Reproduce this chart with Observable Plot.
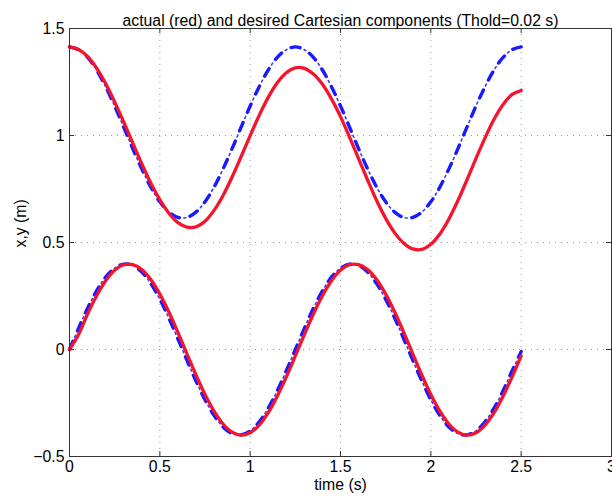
<!DOCTYPE html>
<html><head><meta charset="utf-8">
<script src="https://cdn.jsdelivr.net/npm/d3@7"></script>
<script src="https://cdn.jsdelivr.net/npm/@observablehq/plot@0.6"></script>
<style>body{margin:0;background:#fff;}</style>
</head><body><div id="chart"></div>
<script>
const time = [0,0.05,0.1,0.15,0.2,0.25,0.3,0.35,0.4,0.45,0.5,0.55,0.6,0.65,0.7,0.75,0.8,0.85,0.9,0.95,1,1.05,1.1,1.15,1.2,1.25,1.3,1.35,1.4,1.45,1.5,1.55,1.6,1.65,1.7,1.75,1.8,1.85,1.9,1.95,2,2.05,2.1,2.15,2.2,2.25,2.3,2.35,2.4,2.45,2.5];
// desired (blue, dash-dot)
const desiredX = [1.414,1.401,1.365,1.306,1.228,1.138,1.039,0.939,0.844,0.759,0.690,0.642,0.617,0.617,0.642,0.690,0.759,0.844,0.939,1.039,1.138,1.228,1.306,1.365,1.401,1.414,1.401,1.365,1.306,1.228,1.138,1.039,0.939,0.844,0.759,0.690,0.642,0.617,0.617,0.642,0.690,0.759,0.844,0.939,1.039,1.138,1.228,1.306,1.365,1.401,1.414];
const desiredY = [0,0.099,0.193,0.274,0.338,0.380,0.399,0.393,0.362,0.308,0.235,0.147,0.050,-0.050,-0.147,-0.235,-0.308,-0.362,-0.393,-0.399,-0.380,-0.338,-0.274,-0.193,-0.099,0,0.099,0.193,0.274,0.338,0.380,0.399,0.393,0.362,0.308,0.235,0.147,0.050,-0.050,-0.147,-0.235,-0.308,-0.362,-0.393,-0.399,-0.380,-0.338,-0.274,-0.193,-0.099,-0.01];
// actual (red, solid)
const actualX = [1.414,1.402,1.369,1.315,1.243,1.157,1.063,0.965,0.868,0.778,0.700,0.637,0.593,0.572,0.573,0.599,0.650,0.720,0.806,0.901,0.999,1.094,1.178,1.246,1.293,1.316,1.314,1.287,1.239,1.171,1.088,0.992,0.892,0.792,0.696,0.613,0.545,0.497,0.470,0.468,0.492,0.540,0.610,0.696,0.793,0.893,0.989,1.076,1.145,1.192,1.210];
const actualY = [0,0.070,0.166,0.251,0.321,0.370,0.396,0.397,0.374,0.327,0.259,0.175,0.080,-0.020,-0.119,-0.210,-0.288,-0.348,-0.386,-0.400,-0.389,-0.353,-0.295,-0.218,-0.128,-0.030,0.070,0.166,0.251,0.321,0.370,0.396,0.397,0.374,0.327,0.259,0.175,0.080,-0.020,-0.119,-0.210,-0.288,-0.348,-0.386,-0.400,-0.389,-0.353,-0.295,-0.218,-0.128,-0.030];

const xTicks = [0,0.5,1,1.5,2,2.5,3];
const yTicks = [-0.5,0,0.5,1,1.5];
const titleText = "actual (red) and desired Cartesian components (Thold=0.02 s)";
const xLabel = "time (s)";
const yLabel = "x,y (m)";

const rows = (vals, series) => time.map((t, i) => ({t, v: vals[i], series}));
const desired = [...rows(desiredX, "x"), ...rows(desiredY, "y")];
const actual = [...rows(actualX, "x"), ...rows(actualY, "y")];

const W = 612, H = 499, mL = 69, mR = 1, mT = 28, mB = 43;
const iw = W - mL - mR, ih = H - mT - mB, tk = 5;
const fmt = d => d < 0 ? "\u2212" + Math.abs(d) : String(d);
const font = "'Liberation Sans', Arial, Helvetica, sans-serif";
const fs = 15.8;

const chart = Plot.plot({
  width: W, height: H,
  marginLeft: mL, marginRight: mR, marginTop: mT, marginBottom: mB,
  style: {fontFamily: font, fontSize: fs + "px", background: "#fff", color: "#000", overflow: "visible"},
  x: {domain: [0, 3], ticks: xTicks, tickFormat: fmt, tickSize: 0, tickPadding: 4, label: null},
  y: {domain: [-0.5, 1.5], ticks: yTicks, tickFormat: fmt, tickSize: 0, tickPadding: 5, label: null},
  marks: [
    Plot.ruleX(xTicks, {stroke: "#999", strokeWidth: 1, strokeDasharray: "1,5"}),
    Plot.ruleY(yTicks, {stroke: "#999", strokeWidth: 1, strokeDasharray: "1,5"}),
    Plot.line(desired, {x: "t", y: "v", z: "series", stroke: "#1a1aff", strokeWidth: 3.4, strokeDasharray: "9,11", curve: "catmull-rom"}),
    Plot.line(desired, {x: "t", y: "v", z: "series", stroke: "#3a3aff", strokeWidth: 1.6, strokeDasharray: "2,18", strokeDashoffset: -13.5, curve: "catmull-rom"}),
    Plot.line(actual, {x: "t", y: "v", z: "series", stroke: "#f5142d", strokeWidth: 3.3, curve: "catmull-rom"}),
    Plot.frame({stroke: "#333", strokeWidth: 1}),
    Plot.ruleX(xTicks, {stroke: "#333", insetTop: ih - tk}),
    Plot.ruleX(xTicks, {stroke: "#333", insetBottom: ih - tk}),
    Plot.ruleY(yTicks, {stroke: "#333", insetRight: iw - tk}),
    Plot.ruleY(yTicks, {stroke: "#333", insetLeft: iw - tk}),
    Plot.text([titleText], {frameAnchor: "top", dy: -14, fontSize: fs, fill: "#000"}),
    Plot.text([xLabel], {frameAnchor: "bottom", dy: 33, fontSize: fs, fill: "#000"}),
    Plot.text([yLabel], {frameAnchor: "left", dx: -49, dy: 5, rotate: -90, fontSize: fs, fill: "#000"})
  ]
});
document.getElementById("chart").appendChild(chart);
</script>
</body></html>
